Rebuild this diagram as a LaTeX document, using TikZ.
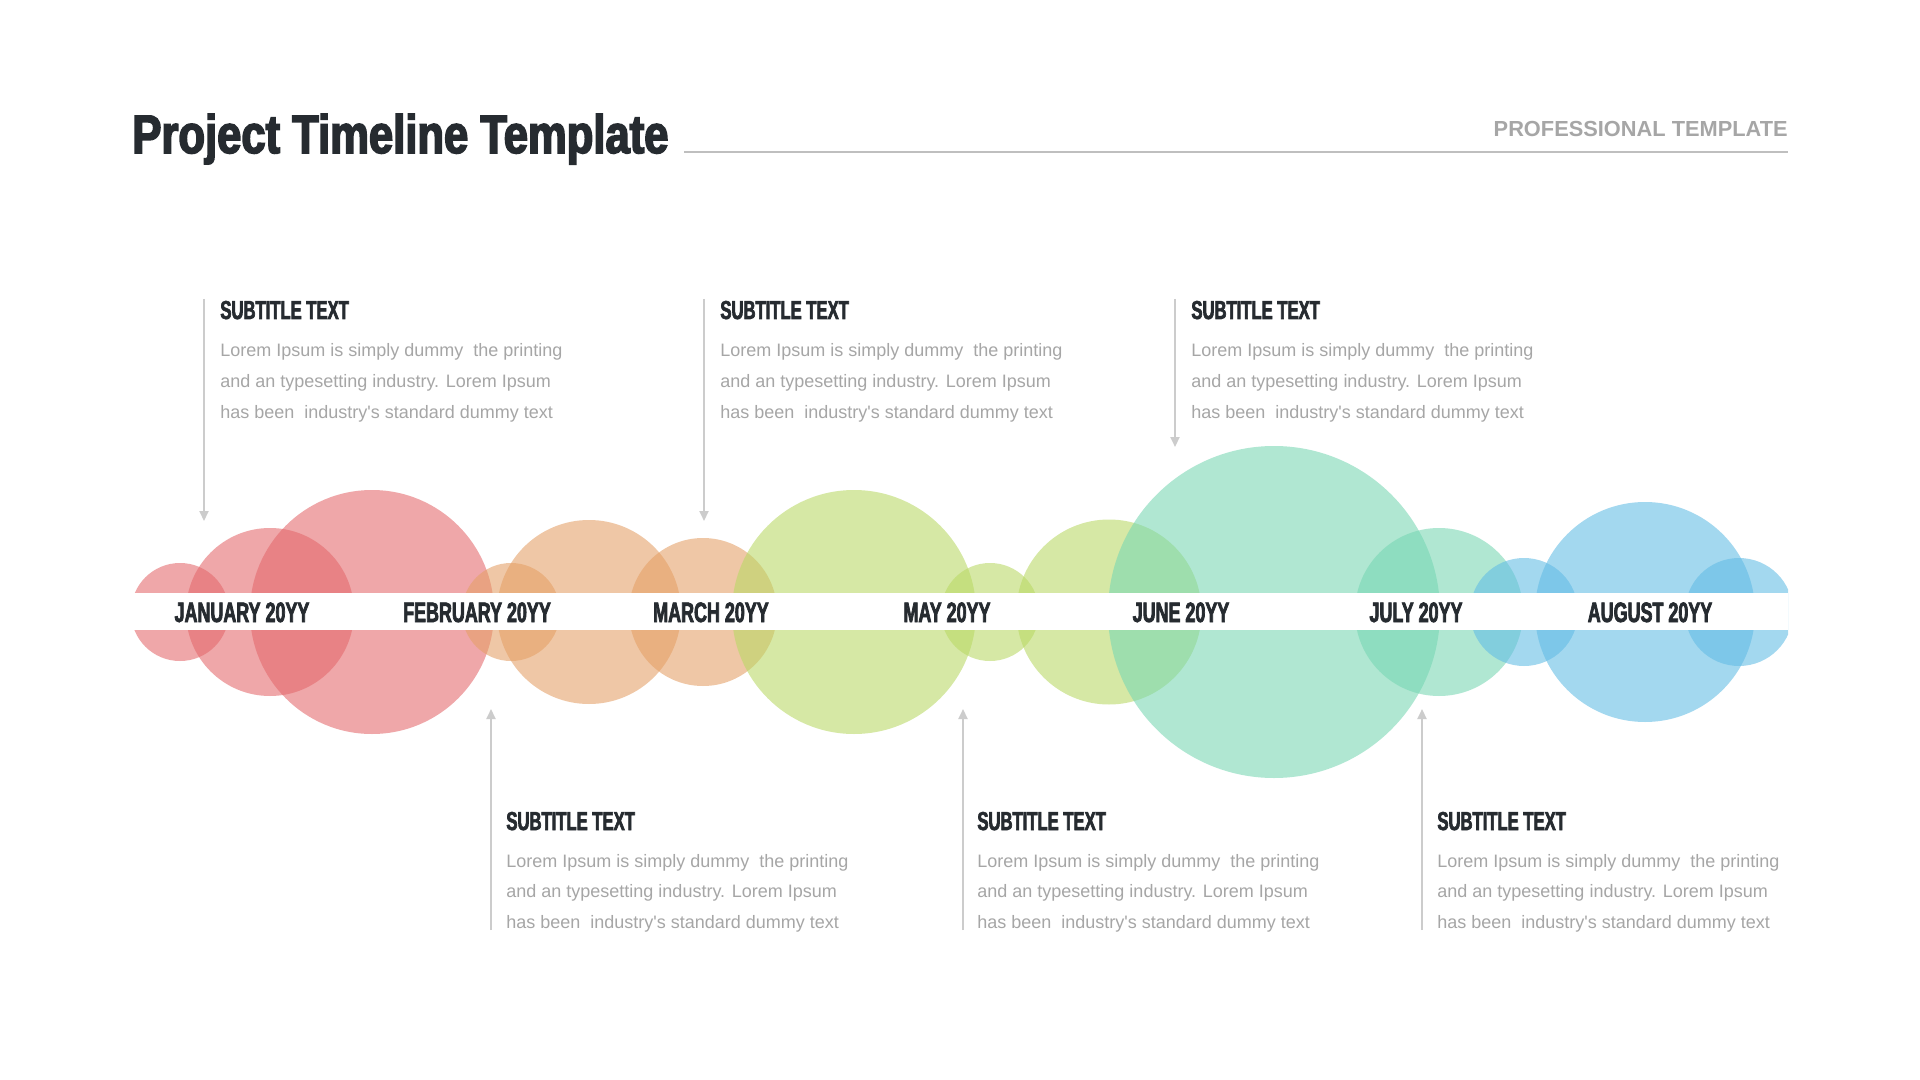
\documentclass[tikz,border=0pt]{standalone}
\usepackage{fontspec}
\setmainfont{Liberation Sans}
\newfontfamily\bodyfont{Liberation Sans}
\newfontfamily\titlefont[FakeStretch=0.807,FakeBold=3]{Liberation Sans Bold}
\newfontfamily\capfont[FakeStretch=0.64,FakeBold=2.5]{Liberation Sans Bold}
\usetikzlibrary{arrows.meta}
\definecolor{ink}{HTML}{262B30}
\definecolor{grytxt}{HTML}{A6A6A6}
\definecolor{rulec}{HTML}{BFBFBF}
\definecolor{connc}{HTML}{CCCCCC}
\definecolor{cred}{RGB}{228,104,107}
\definecolor{corange}{RGB}{229,160,102}
\definecolor{cgreen}{RGB}{185,217,100}
\definecolor{cteal}{RGB}{119,215,179}
\definecolor{cblue}{RGB}{98,188,229}
\begin{document}
\begin{tikzpicture}[x=0.5pt,y=-0.5pt,
  bub/.style={fill=#1,fill opacity=0.58},
  conn/.style={draw=connc,line width=1pt,-{Triangle[width=4.5pt,length=5pt]}},
  month/.style={font=\capfont\fontsize{14pt}{14pt}\selectfont,text=ink,inner sep=0pt,anchor=base},
  subt/.style={font=\capfont\fontsize{13pt}{13pt}\selectfont,text=ink,inner sep=0pt,anchor=base west},
  body/.style={font=\bodyfont\fontsize{9pt}{15.35pt}\selectfont,text=grytxt,inner sep=0pt,anchor=base west}
]
\useasboundingbox (0,0) rectangle (1920,1080);
\fill[white] (0,0) rectangle (1920,1080);

% header
\node[font=\titlefont\fontsize{27pt}{27pt}\selectfont,text=ink,inner sep=0pt,anchor=base west] (title) at (132,153) {Project Timeline Template};
\node[font=\bfseries\fontsize{10.9pt}{10.9pt}\selectfont,text=grytxt,inner sep=0pt,anchor=base east] (prof) at (1788,137) {PROFESSIONAL TEMPLATE};
\coordinate (ruleA) at (684,152);
\coordinate (ruleB) at (1788,152);
\draw[rulec,line width=0.75pt] (ruleA) -- (ruleB);

% bubbles
\begin{scope}
\clip (132,0) rectangle (1788,1080);
\fill[bub=cred] (180,612) circle (49);
\fill[bub=cred] (270,612) circle (84);
\fill[bub=cred] (372,612) circle (122);
\fill[bub=corange] (511,612) circle (49);
\fill[bub=corange] (589,612) circle (92);
\fill[bub=corange] (703,612) circle (74);
\fill[bub=cgreen] (854,612) circle (122);
\fill[bub=cgreen] (990,612) circle (49);
\fill[bub=cgreen] (1109,612) circle (92.5);
\fill[bub=cteal] (1274,612) circle (166);
\fill[bub=cteal] (1439,612) circle (84);
\fill[bub=cblue] (1524,612) circle (54);
\fill[bub=cblue] (1645,612) circle (110);
\fill[bub=cblue] (1739,612) circle (54);
\end{scope}

% band
\fill[white] (132,593) rectangle (1788,630);

% month labels
\node[month] (jan) at (242,622) {JANUARY 20YY};
\node[month] (feb) at (477,622) {FEBRUARY 20YY};
\node[month] (mar) at (711,622) {MARCH 20YY};
\node[month] (may) at (947,622) {MAY 20YY};
\node[month] (jun) at (1181,622) {JUNE 20YY};
\node[month] (jul) at (1416,622) {JULY 20YY};
\node[month] (aug) at (1650,622) {AUGUST 20YY};

% connectors
\coordinate (a1s) at (204,299);  \coordinate (a1e) at (204,521);
\coordinate (a2s) at (704,299);  \coordinate (a2e) at (704,521);
\coordinate (a3s) at (1175,299); \coordinate (a3e) at (1175,447);
\coordinate (b1s) at (491,930);  \coordinate (b1e) at (491,709);
\coordinate (b2s) at (963,930);  \coordinate (b2e) at (963,709);
\coordinate (b3s) at (1422,930); \coordinate (b3e) at (1422,709);
\draw[conn] (a1s) -- (a1e);
\draw[conn] (a2s) -- (a2e);
\draw[conn] (a3s) -- (a3e);
\draw[conn] (b1s) -- (b1e);
\draw[conn] (b2s) -- (b2e);
\draw[conn] (b3s) -- (b3e);

% text blocks
\newcommand{\lorem}{\parbox[t]{220pt}{\raggedright Lorem Ipsum is simply dummy~ the printing\\and an typesetting industry. Lorem Ipsum\\has been~ industry's standard dummy text}}
\node[subt] (s1) at (220,319) {SUBTITLE TEXT};
\node[body] (l1) at (220,357) {\lorem};
\node[subt] (s2) at (720,319) {SUBTITLE TEXT};
\node[body] (l2) at (720,357) {\lorem};
\node[subt] (s3) at (1191,319) {SUBTITLE TEXT};
\node[body] (l3) at (1191,357) {\lorem};
\node[subt] (s4) at (506,830) {SUBTITLE TEXT};
\node[body] (l4) at (506,867) {\lorem};
\node[subt] (s5) at (977,830) {SUBTITLE TEXT};
\node[body] (l5) at (977,867) {\lorem};
\node[subt] (s6) at (1437,830) {SUBTITLE TEXT};
\node[body] (l6) at (1437,867) {\lorem};
\end{tikzpicture}
\end{document}
